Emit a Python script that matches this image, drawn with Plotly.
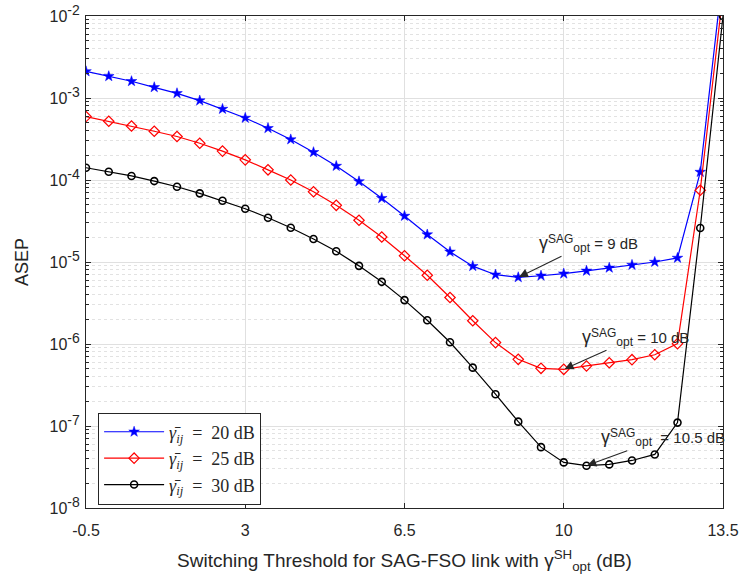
import math
import plotly.graph_objects as go

x_db = [-0.5, 0, 0.5, 1, 1.5, 2, 2.5, 3, 3.5, 4, 4.5, 5, 5.5, 6, 6.5, 7, 7.5,
        8, 8.5, 9, 9.5, 10, 10.5, 11, 11.5, 12, 12.5, 13, 13.5]

asep_20 = [2.11e-3, 1.84e-3, 1.60e-3, 1.35e-3, 1.14e-3, 9.3e-4, 7.34e-4, 5.71e-4,
           4.28e-4, 3.12e-4, 2.18e-4, 1.48e-4, 9.6e-5, 6.0e-5, 3.64e-5, 2.16e-5,
           1.33e-5, 8.9e-6, 7.0e-6, 6.5e-6, 6.8e-6, 7.2e-6, 7.8e-6, 8.5e-6,
           9.2e-6, 1.0e-5, 1.12e-5, 1.25e-4, 3.4e-2]

asep_25 = [5.94e-4, 5.21e-4, 4.56e-4, 3.93e-4, 3.39e-4, 2.81e-4, 2.25e-4, 1.76e-4,
           1.33e-4, 1.00e-4, 7.18e-5, 4.91e-5, 3.23e-5, 2.02e-5, 1.19e-5, 6.9e-6,
           3.69e-6, 1.92e-6, 1.04e-6, 6.5e-7, 5.05e-7, 4.91e-7, 5.4e-7, 5.9e-7,
           6.44e-7, 7.4e-7, 1.01e-6, 7.5e-5, 1.9e-2]

asep_30 = [1.41e-4, 1.26e-4, 1.12e-4, 9.7e-5, 8.27e-5, 6.87e-5, 5.58e-5, 4.46e-5,
           3.47e-5, 2.62e-5, 1.91e-5, 1.35e-5, 8.97e-6, 5.73e-6, 3.43e-6, 1.95e-6,
           1.05e-6, 5.15e-7, 2.44e-7, 1.13e-7, 5.52e-8, 3.6e-8, 3.28e-8, 3.4e-8,
           3.8e-8, 4.5e-8, 1.1e-7, 2.6e-5, 1.0e-2]

x_ticks = [-0.5, 3, 6.5, 10, 13.5]
x_ticklabels = ["-0.5", "3", "6.5", "10", "13.5"]
y_exponents = [-8, -7, -6, -5, -4, -3, -2]

legend_names = ["<i>γ̄</i><sub><i>ij</i></sub>  =  20 dB",
                "<i>γ̄</i><sub><i>ij</i></sub>  =  25 dB",
                "<i>γ̄</i><sub><i>ij</i></sub>  =  30 dB"]

SUP = "<sup><span style='font-size:12px'>%s</span></sup>"
SUB = "<sub><span style='font-size:12px'>%s</span></sub>"
GOPT = "<span style='font-size:18px'>γ</span>" + SUP % "SAG" + SUB % "opt"

# optimum annotations: (x, value, text, ax, ay)
opt_points = [
    (9.0, 6.5e-6, GOPT + " = 9 dB", 70, -34),
    (10.0, 4.91e-7, GOPT + " = 10 dB", 72, -32),
    (10.5, 3.28e-8, GOPT + "  = 10.5 dB", 76, -28),
]

y_tickvals = [10.0 ** e for e in y_exponents]
y_ticktext = ["10<sup><span style='font-size:14px'>%d</span></sup>" % e for e in y_exponents]
y_minor = [m * 10.0 ** e for e in y_exponents[:-1] for m in range(2, 10)]

fig = go.Figure()
styles = [
    dict(color="#0000FF", symbol="star", size=8, lw=1.2, mlw=0.5),
    dict(color="#FF0000", symbol="diamond-open", size=8, lw=1.2, mlw=1.2),
    dict(color="#000000", symbol="circle-open", size=7, lw=1.2, mlw=1.6),
]
for name, ys, st in zip(legend_names, [asep_20, asep_25, asep_30], styles):
    fig.add_trace(go.Scatter(
        x=x_db, y=ys, mode="lines+markers", name=name,
        line=dict(color=st["color"], width=st["lw"]),
        marker=dict(symbol=st["symbol"], size=st["size"], color=st["color"],
                    line=dict(color=st["color"], width=st["mlw"])),
    ))

for xv, yv, txt, ax, ay in opt_points:
    fig.add_annotation(
        x=xv, y=math.log10(yv), xref="x", yref="y", text=txt,
        showarrow=True, arrowhead=2, arrowsize=1.6, arrowwidth=1.1, arrowcolor="#262626",
        ax=ax, ay=ay, font=dict(family="Liberation Sans, Arial", size=15, color="#262626"),
        standoff=1,
    )

axis_common = dict(
    showline=True, linecolor="#262626", linewidth=1, mirror="allticks",
    ticks="inside", tickcolor="#262626", ticklen=5, automargin=False,
    showgrid=True, gridcolor="#E0E0E0", gridwidth=1, zeroline=False,
    ticklabeloverflow="allow",
)

fig.update_layout(
    width=740, height=583,
    margin=dict(l=86, r=17, t=16, b=75),
    paper_bgcolor="white", plot_bgcolor="white",
    font=dict(family="Liberation Sans, Arial", color="#262626"),
    xaxis=dict(
        range=[-0.5, 13.5], tickmode="array", tickvals=x_ticks, ticktext=x_ticklabels,
        ticklabelstandoff=8,
        tickfont=dict(family="Liberation Sans, Arial", size=16, color="#262626"),
        title=dict(text="Switching Threshold for SAG-FSO link with γ<sup>SH</sup><sub>opt</sub> (dB)",
                   font=dict(family="Liberation Sans, Arial", size=19, color="#262626"),
                   standoff=15),
        **axis_common,
    ),
    yaxis=dict(
        type="log", range=[-8, -2], tickmode="array", tickvals=y_tickvals, ticktext=y_ticktext,
        ticklabelstandoff=2,
        tickfont=dict(family="Liberation Sans, Arial", size=16, color="#262626"),
        title=dict(text="ASEP", font=dict(family="Liberation Sans, Arial", size=18, color="#262626"),
                   standoff=16),
        minor=dict(tickmode="array", tickvals=y_minor, ticks="inside", ticklen=3,
                   tickcolor="#262626", showgrid=True, gridcolor="#E2E2E2", griddash="dot",
                   gridwidth=1),
        **axis_common,
    ),
    legend=dict(
        x=0.019, y=0.194, xanchor="left", yanchor="top",
        bgcolor="white", bordercolor="#262626", borderwidth=1,
        font=dict(family="Liberation Serif, DejaVu Serif", size=18, color="#262626"),
        itemwidth=60, tracegroupgap=0,
    ),
    showlegend=True,
)

fig.write_html("out.html")
